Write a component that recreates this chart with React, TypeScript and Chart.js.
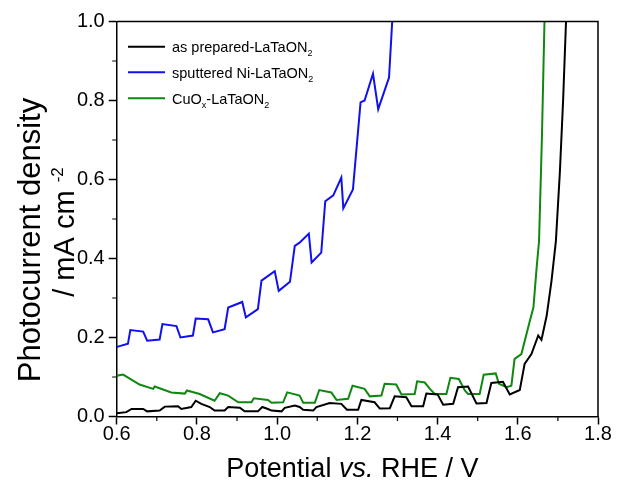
import { useEffect, useRef } from 'react';
import { Chart, registerables } from 'chart.js';

Chart.register(...registerables);

const FONT = '"Liberation Sans", Arial, Helvetica, sans-serif';

// ---- data (potential V vs RHE, photocurrent mA cm^-2) ----
const AS_PREPARED: [number, number][] = [
  [0.600, 0.008], [0.624, 0.011], [0.637, 0.019], [0.666, 0.019], [0.676, 0.013],
  [0.707, 0.015], [0.720, 0.025], [0.753, 0.026], [0.761, 0.019], [0.786, 0.024],
  [0.797, 0.040], [0.811, 0.032], [0.832, 0.024], [0.844, 0.015], [0.869, 0.015],
  [0.878, 0.024], [0.907, 0.022], [0.919, 0.013], [0.952, 0.013], [0.963, 0.024],
  [0.977, 0.019], [0.986, 0.015], [1.011, 0.013], [1.019, 0.022], [1.044, 0.028],
  [1.056, 0.024], [1.065, 0.017], [1.090, 0.015], [1.098, 0.024], [1.131, 0.034],
  [1.160, 0.032], [1.174, 0.017], [1.202, 0.017], [1.210, 0.042], [1.243, 0.036],
  [1.256, 0.020], [1.281, 0.021], [1.293, 0.051], [1.322, 0.049], [1.335, 0.026],
  [1.364, 0.026], [1.372, 0.058], [1.400, 0.056], [1.414, 0.030], [1.439, 0.032],
  [1.451, 0.074], [1.476, 0.076], [1.497, 0.033], [1.522, 0.034], [1.534, 0.085],
  [1.563, 0.088], [1.580, 0.056], [1.605, 0.067], [1.617, 0.133], [1.634, 0.158],
  [1.651, 0.205], [1.659, 0.194], [1.672, 0.255], [1.684, 0.343], [1.695, 0.444],
  [1.705, 0.620], [1.713, 0.800], [1.721, 1.020],
];

const SPUTTERED_NI: [number, number][] = [
  [0.600, 0.176], [0.603, 0.177], [0.628, 0.184], [0.634, 0.219], [0.666, 0.215],
  [0.676, 0.192], [0.707, 0.195], [0.714, 0.234], [0.749, 0.229], [0.759, 0.200],
  [0.790, 0.205], [0.797, 0.248], [0.828, 0.246], [0.840, 0.213], [0.869, 0.221],
  [0.878, 0.276], [0.913, 0.290], [0.922, 0.251], [0.952, 0.272], [0.961, 0.344],
  [0.994, 0.368], [1.004, 0.318], [1.032, 0.341], [1.044, 0.432], [1.056, 0.440],
  [1.079, 0.463], [1.086, 0.390], [1.110, 0.415], [1.120, 0.545], [1.140, 0.560],
  [1.160, 0.605], [1.165, 0.527], [1.189, 0.575], [1.208, 0.795], [1.218, 0.800],
  [1.239, 0.868], [1.252, 0.778], [1.279, 0.858], [1.288, 1.020],
];

const CUOX: [number, number][] = [
  [0.600, 0.100], [0.603, 0.104], [0.616, 0.106], [0.657, 0.081], [0.691, 0.070],
  [0.695, 0.076], [0.736, 0.061], [0.770, 0.058], [0.775, 0.066], [0.807, 0.057],
  [0.844, 0.040], [0.857, 0.059], [0.878, 0.053], [0.903, 0.036], [0.936, 0.036],
  [0.942, 0.046], [0.977, 0.042], [0.986, 0.035], [1.015, 0.036], [1.025, 0.061],
  [1.056, 0.053], [1.065, 0.035], [1.094, 0.035], [1.105, 0.067], [1.135, 0.061],
  [1.148, 0.042], [1.177, 0.045], [1.188, 0.078], [1.218, 0.070], [1.231, 0.051],
  [1.260, 0.053], [1.268, 0.083], [1.297, 0.081], [1.310, 0.056], [1.343, 0.057],
  [1.349, 0.089], [1.368, 0.086], [1.381, 0.070], [1.393, 0.057], [1.422, 0.057],
  [1.432, 0.098], [1.453, 0.095], [1.468, 0.066], [1.476, 0.057], [1.505, 0.057],
  [1.515, 0.106], [1.545, 0.109], [1.553, 0.083], [1.572, 0.074], [1.584, 0.078],
  [1.592, 0.146], [1.609, 0.158], [1.630, 0.242], [1.639, 0.276], [1.647, 0.377],
  [1.653, 0.444], [1.660, 0.700], [1.667, 1.020],
];

const SERIES_NAMES = ['as prepared-LaTaON_2', 'sputtered Ni-LaTaON_2', 'CuO_x-LaTaON_2'];
const SERIES_COLORS = ['#000000', '#1010f0', '#0f880f'];
const SERIES_DATA = [AS_PREPARED, SPUTTERED_NI, CUOX];

const X_TICKS = [0.6, 0.8, 1.0, 1.2, 1.4, 1.6, 1.8];
const X_MINOR = [0.7, 0.9, 1.1, 1.3, 1.5, 1.7];
const Y_TICKS = [0.0, 0.2, 0.4, 0.6, 0.8, 1.0];
const Y_MINOR = [0.1, 0.3, 0.5, 0.7, 0.9];

const X_TITLE = ['Potential ', 'vs.', ' RHE / V'];
const Y_TITLE_1 = 'Photocurrent density';
const Y_TITLE_2 = '/ mA cm';
const Y_TITLE_SUP = '-2';

// draws text where "_c" means subscript c; returns width
function drawRich(ctx: CanvasRenderingContext2D, text: string, x: number, y: number, size: number) {
  const parts = text.split(/(_\w)/).filter((p) => p.length > 0);
  let cx = x;
  for (const p of parts) {
    if (p.startsWith('_')) {
      ctx.font = `${Math.round(size * 0.62)}px ${FONT}`;
      ctx.fillText(p.slice(1), cx, y + size * 0.3);
      cx += ctx.measureText(p.slice(1)).width;
    } else {
      ctx.font = `${size}px ${FONT}`;
      ctx.fillText(p, cx, y);
      cx += ctx.measureText(p).width;
    }
  }
  return cx - x;
}

const decorPlugin = {
  id: 'decor',
  afterDraw(chart: any) {
    const { ctx, chartArea: a, scales } = chart;
    const xs = scales.x;
    const ys = scales.y;
    ctx.save();
    ctx.strokeStyle = '#000';
    ctx.lineWidth = 1.5;
    ctx.beginPath();
    ctx.moveTo(a.left, a.top);
    ctx.lineTo(a.right, a.top);
    ctx.lineTo(a.right, a.bottom);
    ctx.stroke();

    // minor ticks
    ctx.lineWidth = 1.2;
    ctx.beginPath();
    for (const v of X_MINOR) {
      const px = xs.getPixelForValue(v);
      ctx.moveTo(px, a.bottom);
      ctx.lineTo(px, a.bottom + 4.5);
    }
    for (const v of Y_MINOR) {
      const py = ys.getPixelForValue(v);
      ctx.moveTo(a.left, py);
      ctx.lineTo(a.left - 4.5, py);
    }
    ctx.stroke();

    // legend
    const rows = [46.7, 72.3, 98.3];
    ctx.textBaseline = 'alphabetic';
    ctx.textAlign = 'left';
    SERIES_NAMES.forEach((name, i) => {
      const y = rows[i];
      ctx.strokeStyle = SERIES_COLORS[i];
      ctx.lineWidth = 2;
      ctx.beginPath();
      ctx.moveTo(128, y);
      ctx.lineTo(165, y);
      ctx.stroke();
      ctx.fillStyle = '#000';
      drawRich(ctx, name, 172, y + 5.2, 14.5);
    });

    // x title
    ctx.fillStyle = '#000';
    const xSize = 27;
    const fonts = [`${xSize}px ${FONT}`, `italic ${xSize}px ${FONT}`, `${xSize}px ${FONT}`];
    let total = 0;
    X_TITLE.forEach((t, i) => {
      ctx.font = fonts[i];
      total += ctx.measureText(t).width;
    });
    let tx = (a.left + a.right) / 2 - 5 - total / 2;
    X_TITLE.forEach((t, i) => {
      ctx.font = fonts[i];
      ctx.fillText(t, tx, 477);
      tx += ctx.measureText(t).width;
    });

    // y title
    const ySize = 31;
    ctx.save();
    ctx.translate(40, 240);
    ctx.rotate(-Math.PI / 2);
    ctx.font = `${ySize}px ${FONT}`;
    ctx.textAlign = 'center';
    ctx.fillText(Y_TITLE_1, 0, 0);
    ctx.restore();

    ctx.save();
    ctx.translate(74, 232);
    ctx.rotate(-Math.PI / 2);
    ctx.textAlign = 'left';
    ctx.font = `29px ${FONT}`;
    const w1 = ctx.measureText(Y_TITLE_2 + ' ').width;
    ctx.font = `17px ${FONT}`;
    const w2 = ctx.measureText(Y_TITLE_SUP).width;
    const start = -(w1 + w2) / 2;
    ctx.font = `29px ${FONT}`;
    ctx.fillText(Y_TITLE_2, start, 0);
    ctx.font = `17px ${FONT}`;
    ctx.fillText(Y_TITLE_SUP, start + w1, -11);
    ctx.restore();

    ctx.restore();
  },
};

export default function App() {
  const ref = useRef<HTMLCanvasElement>(null);
  useEffect(() => {
    const chart = new Chart(ref.current!, {
      type: 'line',
      data: {
        datasets: SERIES_DATA.map((d, i) => ({
          label: SERIES_NAMES[i],
          data: d.map(([x, y]) => ({ x, y })),
          borderColor: SERIES_COLORS[i],
          backgroundColor: SERIES_COLORS[i],
          borderWidth: 2,
          pointRadius: 0,
          tension: 0,
          fill: false,
        })),
      },
      options: {
        responsive: false,
        animation: false,
        devicePixelRatio: 1,
        layout: { padding: { top: 21.5, right: 23, left: 0, bottom: 0 } },
        plugins: { legend: { display: false }, tooltip: { enabled: false } },
        scales: {
          x: {
            type: 'linear',
            min: 0.6,
            max: 1.8,
            afterBuildTicks: (s: any) => {
              s.ticks = X_TICKS.map((v) => ({ value: v }));
            },
            afterFit: (s: any) => {
              s.height = 64.5;
            },
            grid: {
              drawOnChartArea: false,
              drawTicks: true,
              tickLength: 8,
              tickColor: '#000',
              tickWidth: 1.5,
              color: '#000',
            },
            border: { display: true, color: '#000', width: 1.5 },
            ticks: {
              color: '#000',
              font: { family: FONT, size: 20 },
              padding: -2,
              maxRotation: 0,
              autoSkip: false,
              callback: (v: any) => Number(v).toFixed(1),
            },
          },
          y: {
            type: 'linear',
            min: 0,
            max: 1.0,
            afterBuildTicks: (s: any) => {
              s.ticks = Y_TICKS.map((v) => ({ value: v }));
            },
            afterFit: (s: any) => {
              s.width = 116.7;
            },
            grid: {
              drawOnChartArea: false,
              drawTicks: true,
              tickLength: 8,
              tickColor: '#000',
              tickWidth: 1.5,
              color: '#000',
            },
            border: { display: true, color: '#000', width: 1.5 },
            ticks: {
              color: '#000',
              font: { family: FONT, size: 20 },
              padding: 4,
              autoSkip: false,
              callback: (v: any) => Number(v).toFixed(1),
            },
          },
        },
      },
      plugins: [decorPlugin],
    });
    return () => chart.destroy();
  }, []);
  return (
    <div style={{ position: 'absolute', left: 0, top: 0, width: 621, height: 481, background: '#fff' }}>
      <canvas ref={ref} width={621} height={481} style={{ display: 'block', width: 621, height: 481 }} />
    </div>
  );
}
